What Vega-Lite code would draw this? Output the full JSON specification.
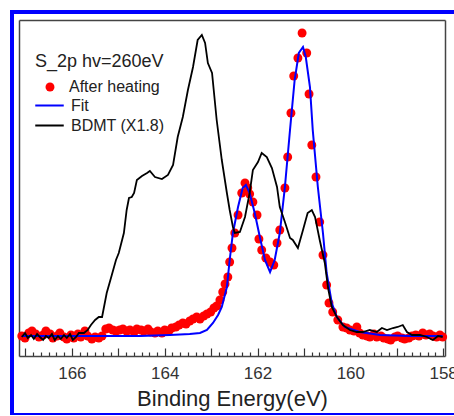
{
  "$schema": "https://vega.github.io/schema/vega-lite/v6.json",
  "width": 444,
  "height": 403,
  "padding": {"left": 12, "top": 12, "right": 0, "bottom": 0},
  "background": "white",
  "config": {
    "view": {"stroke": "#0000ff", "strokeWidth": 4},
    "font": "Liberation Sans"
  },
  "data": {
    "values": [
      {"s": "After heating", "E": 167.08, "I": 20}, {"s": "After heating", "E": 167.01, "I": 18}, {"s": "After heating", "E": 166.93, "I": 23}, {"s": "After heating", "E": 166.86, "I": 25}, {"s": "After heating", "E": 166.78, "I": 22}, {"s": "After heating", "E": 166.71, "I": 19}, {"s": "After heating", "E": 166.62, "I": 21}, {"s": "After heating", "E": 166.56, "I": 25}, {"s": "After heating", "E": 166.47, "I": 22}, {"s": "After heating", "E": 166.41, "I": 18}, {"s": "After heating", "E": 166.32, "I": 20}, {"s": "After heating", "E": 166.26, "I": 23}, {"s": "After heating", "E": 166.17, "I": 19}, {"s": "After heating", "E": 166.11, "I": 17}, {"s": "After heating", "E": 166.02, "I": 21}, {"s": "After heating", "E": 165.96, "I": 18}, {"s": "After heating", "E": 165.87, "I": 22}, {"s": "After heating", "E": 165.81, "I": 19}, {"s": "After heating", "E": 165.72, "I": 25}, {"s": "After heating", "E": 165.66, "I": 20}, {"s": "After heating", "E": 165.57, "I": 17}, {"s": "After heating", "E": 165.50, "I": 19}, {"s": "After heating", "E": 165.42, "I": 18}, {"s": "After heating", "E": 165.35, "I": 20},
      {"s": "After heating", "E": 165.27, "I": 27}, {"s": "After heating", "E": 165.20, "I": 28}, {"s": "After heating", "E": 165.12, "I": 26}, {"s": "After heating", "E": 165.05, "I": 25}, {"s": "After heating", "E": 164.97, "I": 26}, {"s": "After heating", "E": 164.90, "I": 27}, {"s": "After heating", "E": 164.82, "I": 25}, {"s": "After heating", "E": 164.75, "I": 26}, {"s": "After heating", "E": 164.66, "I": 24}, {"s": "After heating", "E": 164.60, "I": 27}, {"s": "After heating", "E": 164.51, "I": 26}, {"s": "After heating", "E": 164.45, "I": 25}, {"s": "After heating", "E": 164.36, "I": 27}, {"s": "After heating", "E": 164.30, "I": 24}, {"s": "After heating", "E": 164.21, "I": 23}, {"s": "After heating", "E": 164.15, "I": 25}, {"s": "After heating", "E": 164.06, "I": 23}, {"s": "After heating", "E": 164.00, "I": 26}, {"s": "After heating", "E": 163.91, "I": 25}, {"s": "After heating", "E": 163.85, "I": 28}, {"s": "After heating", "E": 163.76, "I": 29}, {"s": "After heating", "E": 163.69, "I": 31}, {"s": "After heating", "E": 163.61, "I": 33}, {"s": "After heating", "E": 163.54, "I": 32}, {"s": "After heating", "E": 163.46, "I": 35}, {"s": "After heating", "E": 163.39, "I": 37}, {"s": "After heating", "E": 163.31, "I": 39}, {"s": "After heating", "E": 163.24, "I": 37}, {"s": "After heating", "E": 163.16, "I": 40}, {"s": "After heating", "E": 163.09, "I": 42}, {"s": "After heating", "E": 163.01, "I": 44}, {"s": "After heating", "E": 162.94, "I": 48}, {"s": "After heating", "E": 162.88, "I": 50},
      {"s": "After heating", "E": 162.81, "I": 56}, {"s": "After heating", "E": 162.75, "I": 64}, {"s": "After heating", "E": 162.70, "I": 72}, {"s": "After heating", "E": 162.64, "I": 79}, {"s": "After heating", "E": 162.60, "I": 94}, {"s": "After heating", "E": 162.55, "I": 108}, {"s": "After heating", "E": 162.49, "I": 123}, {"s": "After heating", "E": 162.42, "I": 141}, {"s": "After heating", "E": 162.34, "I": 163}, {"s": "After heating", "E": 162.27, "I": 173}, {"s": "After heating", "E": 162.21, "I": 168}, {"s": "After heating", "E": 162.17, "I": 162}, {"s": "After heating", "E": 162.10, "I": 154}, {"s": "After heating", "E": 162.01, "I": 141}, {"s": "After heating", "E": 161.97, "I": 117}, {"s": "After heating", "E": 161.91, "I": 106}, {"s": "After heating", "E": 161.82, "I": 98}, {"s": "After heating", "E": 161.73, "I": 94}, {"s": "After heating", "E": 161.65, "I": 91}, {"s": "After heating", "E": 161.58, "I": 113}, {"s": "After heating", "E": 161.52, "I": 126}, {"s": "After heating", "E": 161.41, "I": 168}, {"s": "After heating", "E": 161.35, "I": 199}, {"s": "After heating", "E": 161.28, "I": 243}, {"s": "After heating", "E": 161.22, "I": 280}, {"s": "After heating", "E": 161.13, "I": 298}, {"s": "After heating", "E": 161.04, "I": 323}, {"s": "After heating", "E": 160.94, "I": 303}, {"s": "After heating", "E": 160.89, "I": 262}, {"s": "After heating", "E": 160.83, "I": 211}, {"s": "After heating", "E": 160.74, "I": 179}, {"s": "After heating", "E": 160.66, "I": 134}, {"s": "After heating", "E": 160.59, "I": 101}, {"s": "After heating", "E": 160.51, "I": 71}, {"s": "After heating", "E": 160.46, "I": 53}, {"s": "After heating", "E": 160.38, "I": 44}, {"s": "After heating", "E": 160.27, "I": 36}, {"s": "After heating", "E": 160.16, "I": 29}, {"s": "After heating", "E": 160.08, "I": 28}, {"s": "After heating", "E": 160.01, "I": 26},
      {"s": "After heating", "E": 159.92, "I": 25}, {"s": "After heating", "E": 159.86, "I": 29}, {"s": "After heating", "E": 159.80, "I": 23}, {"s": "After heating", "E": 159.73, "I": 21}, {"s": "After heating", "E": 159.64, "I": 20}, {"s": "After heating", "E": 159.58, "I": 19}, {"s": "After heating", "E": 159.49, "I": 22}, {"s": "After heating", "E": 159.43, "I": 19}, {"s": "After heating", "E": 159.34, "I": 20}, {"s": "After heating", "E": 159.28, "I": 18}, {"s": "After heating", "E": 159.19, "I": 17}, {"s": "After heating", "E": 159.13, "I": 16}, {"s": "After heating", "E": 159.04, "I": 19}, {"s": "After heating", "E": 158.98, "I": 20}, {"s": "After heating", "E": 158.89, "I": 18}, {"s": "After heating", "E": 158.83, "I": 17}, {"s": "After heating", "E": 158.74, "I": 18}, {"s": "After heating", "E": 158.67, "I": 20}, {"s": "After heating", "E": 158.59, "I": 21}, {"s": "After heating", "E": 158.52, "I": 20}, {"s": "After heating", "E": 158.44, "I": 23}, {"s": "After heating", "E": 158.37, "I": 21}, {"s": "After heating", "E": 158.29, "I": 22}, {"s": "After heating", "E": 158.22, "I": 20}, {"s": "After heating", "E": 158.14, "I": 19}, {"s": "After heating", "E": 158.07, "I": 21}, {"s": "After heating", "E": 158.01, "I": 19},

      {"s": "Fit", "E": 167.08, "I": 20}, {"s": "Fit", "E": 166.26, "I": 20}, {"s": "Fit", "E": 165.40, "I": 20}, {"s": "Fit", "E": 164.53, "I": 20}, {"s": "Fit", "E": 163.89, "I": 21}, {"s": "Fit", "E": 163.46, "I": 22}, {"s": "Fit", "E": 163.24, "I": 23}, {"s": "Fit", "E": 163.09, "I": 26}, {"s": "Fit", "E": 162.96, "I": 33}, {"s": "Fit", "E": 162.85, "I": 41}, {"s": "Fit", "E": 162.77, "I": 49}, {"s": "Fit", "E": 162.66, "I": 69}, {"s": "Fit", "E": 162.60, "I": 96}, {"s": "Fit", "E": 162.53, "I": 123}, {"s": "Fit", "E": 162.42, "I": 149}, {"s": "Fit", "E": 162.32, "I": 168}, {"s": "Fit", "E": 162.25, "I": 171}, {"s": "Fit", "E": 162.17, "I": 163}, {"s": "Fit", "E": 162.06, "I": 143}, {"s": "Fit", "E": 161.95, "I": 119}, {"s": "Fit", "E": 161.84, "I": 96}, {"s": "Fit", "E": 161.73, "I": 84}, {"s": "Fit", "E": 161.63, "I": 96}, {"s": "Fit", "E": 161.52, "I": 123}, {"s": "Fit", "E": 161.41, "I": 169}, {"s": "Fit", "E": 161.30, "I": 226}, {"s": "Fit", "E": 161.20, "I": 276}, {"s": "Fit", "E": 161.11, "I": 303}, {"s": "Fit", "E": 161.02, "I": 309}, {"s": "Fit", "E": 160.96, "I": 299}, {"s": "Fit", "E": 160.87, "I": 269}, {"s": "Fit", "E": 160.81, "I": 226}, {"s": "Fit", "E": 160.70, "I": 169}, {"s": "Fit", "E": 160.59, "I": 123}, {"s": "Fit", "E": 160.51, "I": 83}, {"s": "Fit", "E": 160.40, "I": 53}, {"s": "Fit", "E": 160.29, "I": 39}, {"s": "Fit", "E": 160.12, "I": 29}, {"s": "Fit", "E": 159.80, "I": 24}, {"s": "Fit", "E": 159.36, "I": 21}, {"s": "Fit", "E": 158.72, "I": 20}, {"s": "Fit", "E": 158.01, "I": 20},

      {"s": "BDMT (X1.8)", "E": 167.08, "I": 19}, {"s": "BDMT (X1.8)", "E": 167.01, "I": 23}, {"s": "BDMT (X1.8)", "E": 166.95, "I": 18}, {"s": "BDMT (X1.8)", "E": 166.88, "I": 21}, {"s": "BDMT (X1.8)", "E": 166.82, "I": 17}, {"s": "BDMT (X1.8)", "E": 166.75, "I": 22}, {"s": "BDMT (X1.8)", "E": 166.69, "I": 19}, {"s": "BDMT (X1.8)", "E": 166.62, "I": 16}, {"s": "BDMT (X1.8)", "E": 166.56, "I": 20}, {"s": "BDMT (X1.8)", "E": 166.50, "I": 18}, {"s": "BDMT (X1.8)", "E": 166.43, "I": 22}, {"s": "BDMT (X1.8)", "E": 166.37, "I": 16}, {"s": "BDMT (X1.8)", "E": 166.30, "I": 20}, {"s": "BDMT (X1.8)", "E": 166.24, "I": 17}, {"s": "BDMT (X1.8)", "E": 166.17, "I": 21}, {"s": "BDMT (X1.8)", "E": 166.11, "I": 18}, {"s": "BDMT (X1.8)", "E": 166.04, "I": 22}, {"s": "BDMT (X1.8)", "E": 165.98, "I": 16}, {"s": "BDMT (X1.8)", "E": 165.91, "I": 19}, {"s": "BDMT (X1.8)", "E": 165.85, "I": 23}, {"s": "BDMT (X1.8)", "E": 165.74, "I": 23}, {"s": "BDMT (X1.8)", "E": 165.66, "I": 26}, {"s": "BDMT (X1.8)", "E": 165.59, "I": 31}, {"s": "BDMT (X1.8)", "E": 165.50, "I": 36}, {"s": "BDMT (X1.8)", "E": 165.42, "I": 39}, {"s": "BDMT (X1.8)", "E": 165.35, "I": 39}, {"s": "BDMT (X1.8)", "E": 165.25, "I": 63}, {"s": "BDMT (X1.8)", "E": 165.14, "I": 81}, {"s": "BDMT (X1.8)", "E": 165.05, "I": 96}, {"s": "BDMT (X1.8)", "E": 164.99, "I": 103}, {"s": "BDMT (X1.8)", "E": 164.88, "I": 123}, {"s": "BDMT (X1.8)", "E": 164.82, "I": 146}, {"s": "BDMT (X1.8)", "E": 164.77, "I": 158}, {"s": "BDMT (X1.8)", "E": 164.71, "I": 159}, {"s": "BDMT (X1.8)", "E": 164.66, "I": 163}, {"s": "BDMT (X1.8)", "E": 164.60, "I": 176}, {"s": "BDMT (X1.8)", "E": 164.49, "I": 180}, {"s": "BDMT (X1.8)", "E": 164.38, "I": 183}, {"s": "BDMT (X1.8)", "E": 164.32, "I": 185}, {"s": "BDMT (X1.8)", "E": 164.21, "I": 179}, {"s": "BDMT (X1.8)", "E": 164.06, "I": 177}, {"s": "BDMT (X1.8)", "E": 163.93, "I": 181}, {"s": "BDMT (X1.8)", "E": 163.82, "I": 191}, {"s": "BDMT (X1.8)", "E": 163.72, "I": 219}, {"s": "BDMT (X1.8)", "E": 163.61, "I": 239}, {"s": "BDMT (X1.8)", "E": 163.50, "I": 266}, {"s": "BDMT (X1.8)", "E": 163.39, "I": 289}, {"s": "BDMT (X1.8)", "E": 163.29, "I": 316}, {"s": "BDMT (X1.8)", "E": 163.20, "I": 321}, {"s": "BDMT (X1.8)", "E": 163.13, "I": 313}, {"s": "BDMT (X1.8)", "E": 163.07, "I": 293}, {"s": "BDMT (X1.8)", "E": 162.98, "I": 283}, {"s": "BDMT (X1.8)", "E": 162.88, "I": 236}, {"s": "BDMT (X1.8)", "E": 162.77, "I": 196}, {"s": "BDMT (X1.8)", "E": 162.66, "I": 163}, {"s": "BDMT (X1.8)", "E": 162.60, "I": 146}, {"s": "BDMT (X1.8)", "E": 162.53, "I": 129}, {"s": "BDMT (X1.8)", "E": 162.49, "I": 123}, {"s": "BDMT (X1.8)", "E": 162.38, "I": 124}, {"s": "BDMT (X1.8)", "E": 162.27, "I": 139}, {"s": "BDMT (X1.8)", "E": 162.17, "I": 163}, {"s": "BDMT (X1.8)", "E": 162.10, "I": 186}, {"s": "BDMT (X1.8)", "E": 161.99, "I": 194}, {"s": "BDMT (X1.8)", "E": 161.91, "I": 203}, {"s": "BDMT (X1.8)", "E": 161.80, "I": 199}, {"s": "BDMT (X1.8)", "E": 161.69, "I": 188}, {"s": "BDMT (X1.8)", "E": 161.58, "I": 169}, {"s": "BDMT (X1.8)", "E": 161.52, "I": 149}, {"s": "BDMT (X1.8)", "E": 161.41, "I": 134}, {"s": "BDMT (X1.8)", "E": 161.30, "I": 118}, {"s": "BDMT (X1.8)", "E": 161.24, "I": 116}, {"s": "BDMT (X1.8)", "E": 161.13, "I": 108}, {"s": "BDMT (X1.8)", "E": 161.02, "I": 126}, {"s": "BDMT (X1.8)", "E": 160.92, "I": 143}, {"s": "BDMT (X1.8)", "E": 160.83, "I": 146}, {"s": "BDMT (X1.8)", "E": 160.76, "I": 139}, {"s": "BDMT (X1.8)", "E": 160.66, "I": 116}, {"s": "BDMT (X1.8)", "E": 160.55, "I": 93}, {"s": "BDMT (X1.8)", "E": 160.48, "I": 68}, {"s": "BDMT (X1.8)", "E": 160.40, "I": 49}, {"s": "BDMT (X1.8)", "E": 160.29, "I": 39}, {"s": "BDMT (X1.8)", "E": 160.16, "I": 31}, {"s": "BDMT (X1.8)", "E": 160.01, "I": 26}, {"s": "BDMT (X1.8)", "E": 159.86, "I": 24}, {"s": "BDMT (X1.8)", "E": 159.73, "I": 24}, {"s": "BDMT (X1.8)", "E": 159.58, "I": 26}, {"s": "BDMT (X1.8)", "E": 159.43, "I": 24}, {"s": "BDMT (X1.8)", "E": 159.32, "I": 28}, {"s": "BDMT (X1.8)", "E": 159.21, "I": 26}, {"s": "BDMT (X1.8)", "E": 159.08, "I": 28}, {"s": "BDMT (X1.8)", "E": 158.98, "I": 29}, {"s": "BDMT (X1.8)", "E": 158.87, "I": 31}, {"s": "BDMT (X1.8)", "E": 158.78, "I": 24}, {"s": "BDMT (X1.8)", "E": 158.67, "I": 21}, {"s": "BDMT (X1.8)", "E": 158.50, "I": 21}, {"s": "BDMT (X1.8)", "E": 158.35, "I": 19}, {"s": "BDMT (X1.8)", "E": 158.22, "I": 16}, {"s": "BDMT (X1.8)", "E": 158.11, "I": 20}, {"s": "BDMT (X1.8)", "E": 158.01, "I": 19}
    ]
  },
  "resolve": {"axis": {"x": "independent", "y": "independent"}},
  "layer": [
    {
      "transform": [{"filter": "datum.s === 'After heating'"}],
      "mark": {"type": "point", "filled": true, "size": 80, "opacity": 1, "strokeWidth": 0},
      "encoding": {
        "x": {
          "field": "E", "type": "quantitative",
          "scale": {"domain": [167.14, 157.96], "range": [7, 433], "nice": false, "zero": false},
          "axis": {
            "orient": "bottom", "offset": -59, "grid": false,
            "domainColor": "#444", "domainWidth": 1.5,
            "tickColor": "#333", "tickWidth": 1.2,
            "tickSize": {"condition": {"test": "abs(datum.value - round(datum.value)) < 0.01", "value": -8}, "value": -4},
            "values": [158,158.1667,158.3333,158.5,158.6667,158.8333,159,159.1667,159.3333,159.5,159.6667,159.8333,160,160.1667,160.3333,160.5,160.6667,160.8333,161,161.1667,161.3333,161.5,161.6667,161.8333,162,162.1667,162.3333,162.5,162.6667,162.8333,163,163.1667,163.3333,163.5,163.6667,163.8333,164,164.1667,164.3333,164.5,164.6667,164.8333,165,165.1667,165.3333,165.5,165.6667,165.8333,166,166.1667,166.3333,166.5,166.6667,166.8333,167],
            "labelExpr": "abs(datum.value - round(datum.value)) < 0.01 && round(datum.value) % 2 == 0 ? '' + round(datum.value) : ''",
            "labelFont": "Liberation Sans", "labelFontSize": 17, "labelColor": "#333",
            "labelFlush": false, "labelOverlap": false, "labelPadding": 17,
            "title": "Binding Energy(eV)", "titleFont": "Liberation Sans", "titleFontSize": 22,
            "titleFontWeight": "normal", "titleColor": "#222", "titlePadding": 3
          }
        },
        "y": {
          "field": "I", "type": "quantitative",
          "scale": {"domain": [0, 336], "range": [344, 8], "nice": false, "zero": false},
          "axis": {"orient": "left", "offset": -7, "labels": false, "ticks": false, "grid": false, "title": null, "domainColor": "#444", "domainWidth": 1.5}
        },
        "color": {
          "field": "s", "type": "nominal",
          "scale": {"domain": ["After heating"], "range": ["#ff0000"]},
          "legend": {
            "title": "S_2p hv=260eV", "orient": "none", "legendX": 23, "legendY": 41, "padding": 0,
            "titleFont": "Liberation Sans", "titleFontSize": 18, "titleFontWeight": "normal", "titleColor": "#222", "titlePadding": 8,
            "labelFont": "Liberation Sans", "labelFontSize": 16, "labelColor": "#222", "labelOffset": 11,
            "symbolType": "circle", "symbolSize": 80, "symbolOffset": 7, "symbolStrokeWidth": 0
          }
        }
      }
    },
    {
      "transform": [{"filter": "datum.s === 'Fit'"}],
      "mark": {"type": "line", "strokeWidth": 2},
      "encoding": {
        "x": {"field": "E", "type": "quantitative", "sort": null,
          "axis": {"orient": "top", "offset": -8, "labels": false, "ticks": false, "grid": false, "title": null, "domainColor": "#444", "domainWidth": 1.5}},
        "y": {"field": "I", "type": "quantitative",
          "axis": {"orient": "right", "offset": -11, "labels": false, "ticks": false, "grid": false, "title": null, "domainColor": "#444", "domainWidth": 1.5}},
        "stroke": {
          "field": "s", "type": "nominal",
          "scale": {"domain": ["Fit", "BDMT (X1.8)"], "range": ["#0000ff", "#000000"]},
          "legend": {
            "title": null, "orient": "none", "legendX": 23, "legendY": 83, "padding": 0,
            "labelFont": "Liberation Sans", "labelFontSize": 16, "labelColor": "#222", "labelOffset": 11,
            "symbolType": "M-1.5,0H1.5", "symbolSize": 361, "symbolOffset": 4, "symbolStrokeWidth": 2, "rowPadding": 1
          }
        }
      }
    },
    {
      "transform": [{"filter": "datum.s === 'BDMT (X1.8)'"}],
      "mark": {"type": "line", "strokeWidth": 1.8},
      "encoding": {
        "x": {"field": "E", "type": "quantitative", "sort": null, "axis": null},
        "y": {"field": "I", "type": "quantitative", "axis": null},
        "stroke": {"field": "s", "type": "nominal"}
      }
    }
  ]
}
